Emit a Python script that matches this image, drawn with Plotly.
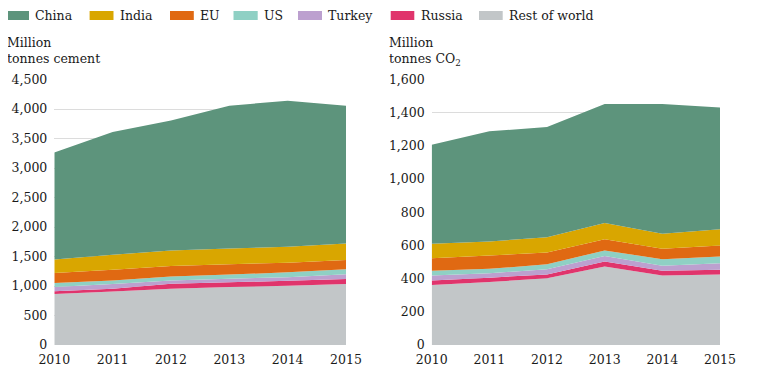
import plotly.graph_objects as go

# The page body adds an 8px margin, so the figure is drawn at (8, 8)
OFF = 8
W, H = 776 - OFF, 381 - OFF


def px(x):
    return (x - OFF) / W


def py(y):
    return 1 - (y - OFF) / H


years = [2010, 2011, 2012, 2013, 2014, 2015]
series_names = ["Rest of world", "Russia", "Turkey", "US", "EU", "India", "China"]
legend_order = ["China", "India", "EU", "US", "Turkey", "Russia", "Rest of world"]
colors = {
    "China": "#5d947c",
    "India": "#d9a600",
    "EU": "#e06912",
    "US": "#8fd0c4",
    "Turkey": "#bca0cf",
    "Russia": "#e0346c",
    "Rest of world": "#c2c6c8",
}

# Cement production, million tonnes
cement_rest = [866, 905, 952, 982, 1005, 1033]
cement_russia = [46, 50, 85, 80, 85, 85]
cement_turkey = [73, 80, 56, 60, 60, 80]
cement_us = [67, 60, 68, 72, 81, 84]
cement_eu = [170, 182, 176, 175, 164, 158]
cement_india = [227, 254, 264, 265, 271, 282]
cement_china = [1812, 2078, 2202, 2423, 2473, 2332]

# CO2 emissions, million tonnes
co2_rest = [362, 380, 402, 473, 419, 425]
co2_russia = [26, 26, 23, 30, 28, 28]
co2_turkey = [31, 27, 31, 34, 30, 40]
co2_us = [28, 26, 30, 33, 40, 40]
co2_eu = [76, 80, 72, 68, 63, 67]
co2_india = [87, 85, 92, 97, 90, 98]
co2_china = [597, 664, 664, 718, 783, 733]

cement = dict(zip(series_names, [cement_rest, cement_russia, cement_turkey, cement_us,
                                 cement_eu, cement_india, cement_china]))
co2 = dict(zip(series_names, [co2_rest, co2_russia, co2_turkey, co2_us,
                              co2_eu, co2_india, co2_china]))

left_ticks = [0, 500, 1000, 1500, 2000, 2500, 3000, 3500, 4000, 4500]
right_ticks = [0, 200, 400, 600, 800, 1000, 1200, 1400, 1600]

FONT = "DejaVu Serif"
FS = 12.5
TXT = "#1a1a1a"

fig = go.Figure()
for name in series_names:
    fig.add_trace(go.Scatter(x=years, y=cement[name], name=name, stackgroup="a",
                             mode="none", fillcolor=colors[name], line=dict(width=0),
                             xaxis="x", yaxis="y", showlegend=False, hoverinfo="x+y+name"))
for name in series_names:
    fig.add_trace(go.Scatter(x=years, y=co2[name], name=name, stackgroup="b",
                             mode="none", fillcolor=colors[name], line=dict(width=0),
                             xaxis="x2", yaxis="y2", showlegend=False, hoverinfo="x+y+name"))

ydom = [py(345), py(79.5)]
common_x = dict(tickmode="array", tickvals=years, ticktext=[str(y) for y in years],
                showgrid=False, zeroline=False, showline=False, ticks="",
                ticklabelstandoff=5,
                tickfont=dict(family=FONT, size=FS, color=TXT), automargin=False,
                fixedrange=True)
common_y = dict(showgrid=True, gridcolor="#dcdcdc", gridwidth=1, zeroline=False,
                showline=False, ticks="", tickformat=",d", ticklabelstandoff=6,
                tickfont=dict(family=FONT, size=FS, color=TXT), automargin=False,
                fixedrange=True)

fig.update_layout(
    width=W, height=H,
    margin=dict(l=0, r=0, t=0, b=0),
    paper_bgcolor="white", plot_bgcolor="white",
    showlegend=False,
    xaxis=dict(domain=[px(54.3), px(346)], range=[2010, 2015], anchor="y", **common_x),
    yaxis=dict(domain=ydom, range=[0, 4500], tickvals=left_ticks, anchor="x", **common_y),
    xaxis2=dict(domain=[px(431.7), px(720)], range=[2010, 2015], anchor="y2", **common_x),
    yaxis2=dict(domain=ydom, range=[0, 1600], tickvals=right_ticks, anchor="x2", **common_y),
)

# Manual legend
legend_rects = {
    "China": (5, 29, 32.7),
    "India": (89.6, 113.5, 117.5),
    "EU": (170, 193.8, 197.8),
    "US": (233.5, 257.7, 261.7),
    "Turkey": (298, 322, 326),
    "Russia": (390.7, 414.3, 418.5),
    "Rest of world": (479, 502.7, 506.7),
}
shapes = []
annotations = []
for name in legend_order:
    x0, x1, tx = legend_rects[name]
    shapes.append(dict(type="rect", xref="paper", yref="paper",
                       x0=px(x0), x1=px(x1), y0=py(20), y1=py(11),
                       fillcolor=colors[name], line=dict(width=0)))
    annotations.append(dict(text=name, xref="paper", yref="paper", x=px(tx),
                            y=py(15.5), xanchor="left", yanchor="middle",
                            showarrow=False, font=dict(family=FONT, size=FS, color=TXT)))

annotations.append(dict(text="Million<br>tonnes cement", xref="paper", yref="paper",
                        x=px(5), y=py(33), xanchor="left", yanchor="top", align="left",
                        showarrow=False, font=dict(family=FONT, size=FS, color=TXT)))
annotations.append(dict(text="Million<br>tonnes CO<sub>2</sub>", xref="paper", yref="paper",
                        x=px(386.5), y=py(33), xanchor="left", yanchor="top", align="left",
                        showarrow=False, font=dict(family=FONT, size=FS, color=TXT)))

fig.update_layout(shapes=shapes, annotations=annotations)

fig.write_html("out.html")
